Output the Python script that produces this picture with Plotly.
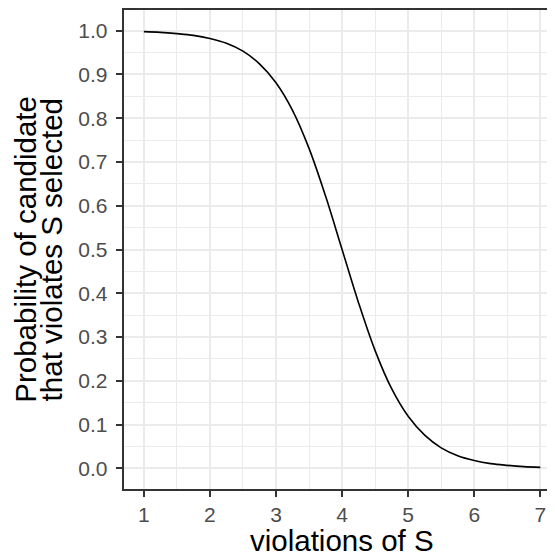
import plotly.graph_objects as go

# values
x_vals = [1.0, 1.25, 1.5, 1.75, 2.0, 2.25, 2.5, 2.75, 3.0, 3.25, 3.5, 3.75, 4.0,
          4.25, 4.5, 4.75, 5.0, 5.25, 5.5, 5.75, 6.0, 6.25, 6.5, 6.75, 7.0]
p_vals = [0.9975, 0.996, 0.993, 0.989, 0.982, 0.971, 0.953, 0.924, 0.881, 0.818,
          0.731, 0.622, 0.500, 0.378, 0.269, 0.182, 0.119, 0.076, 0.047, 0.029,
          0.018, 0.011, 0.007, 0.004, 0.0025]
x_ticks = [1, 2, 3, 4, 5, 6, 7]
y_ticks = [0.0, 0.1, 0.2, 0.3, 0.4, 0.5, 0.6, 0.7, 0.8, 0.9, 1.0]
y_tick_labels = ["0.0", "0.1", "0.2", "0.3", "0.4", "0.5", "0.6", "0.7", "0.8", "0.9", "1.0"]
x_title = "violations of S"
y_title_lines = ["Probability of candidate", "that violates S selected"]

# page has an 8px body margin; figure is sized to fill the rest of the window
OFF = 8
W, H = 555 - OFF, 552 - OFF
panel_l, panel_t, panel_b = 123.5, 10, 489   # page pixels
ml = panel_l - OFF
mt = panel_t - OFF
mb = H - (panel_b - OFF)
mr = 0
pw = W - ml - mr
ph = H - mt - mb


def px_x(page_x):
    return (page_x - OFF - ml) / pw


def px_y(page_y):
    return (panel_b - page_y) / ph


fig = go.Figure()
fig.add_trace(go.Scatter(x=x_vals, y=p_vals, mode="lines",
                         line=dict(color="black", width=1.6, shape="spline"),
                         hoverinfo="skip", showlegend=False))

font = "Liberation Sans, Arial, sans-serif"
TICK = 21
TITLE = 29.5
fig.update_layout(
    width=W, height=H, autosize=False,
    margin=dict(l=ml, r=mr, t=mt, b=mb, pad=0),
    paper_bgcolor="white", plot_bgcolor="white",
    font=dict(family=font),
    xaxis=dict(range=[0.70, 7.222], tickvals=x_ticks, ticktext=[str(v) for v in x_ticks],
               showgrid=True, gridcolor="#EBEBEB", gridwidth=2,
               minor=dict(dtick=0.5, tick0=0.5, showgrid=True, gridcolor="#EBEBEB", gridwidth=1, ticks=""),
               zeroline=False, showline=True, linecolor="#333333", linewidth=1.5, mirror=True,
               ticks="outside", ticklen=6.5, tickwidth=1.5, tickcolor="#333333",
               tickfont=dict(size=TICK, color="#4D4D4D", family=font), ticklabelstandoff=0),
    yaxis=dict(range=[-0.047, 1.047], tickvals=y_ticks, ticktext=y_tick_labels,
               showgrid=True, gridcolor="#EBEBEB", gridwidth=2,
               minor=dict(dtick=0.05, tick0=0.05, showgrid=True, gridcolor="#EBEBEB", gridwidth=1, ticks=""),
               zeroline=False, showline=True, linecolor="#333333", linewidth=1.5, mirror=False,
               ticks="outside", ticklen=6.5, tickwidth=1.5, tickcolor="#333333",
               tickfont=dict(size=TICK, color="#4D4D4D", family=font), ticklabelstandoff=4),
)

# x title centred on the (clipped) ggplot panel
fig.add_annotation(text=x_title, xref="paper", yref="paper",
                   x=px_x((123.5 + 560) / 2), y=px_y(540.5),
                   xanchor="center", yanchor="middle", showarrow=False,
                   font=dict(size=TITLE, color="black", family=font))
for line_text, cx in zip(y_title_lines, [24.6, 51.3]):
    fig.add_annotation(text=line_text, xref="paper", yref="paper",
                       x=px_x(cx), y=px_y(249.5),
                       xanchor="center", yanchor="middle", showarrow=False, textangle=-90,
                       font=dict(size=TITLE, color="black", family=font))

fig.write_html("out.html")
